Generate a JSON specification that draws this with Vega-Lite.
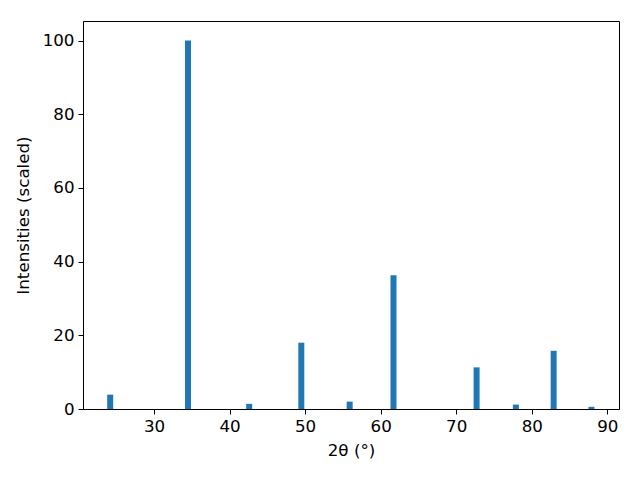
{
  "$schema": "https://vega.github.io/schema/vega-lite/v6.json",
  "autosize": {"type": "none"},
  "width": 536,
  "height": 388,
  "padding": {"left": 83, "top": 21, "right": 21, "bottom": 71},
  "background": "white",
  "config": {
    "view": {"stroke": "black", "strokeWidth": 1},
    "axis": {
      "grid": false,
      "domainColor": "black",
      "tickColor": "black",
      "tickSize": 5,
      "labelColor": "black",
      "titleColor": "black",
      "titleFontWeight": "normal",
      "labelFont": "DejaVu Sans",
      "titleFont": "DejaVu Sans"
    }
  },
  "data": {
    "values": [
      {"two_theta": 24.2, "intensity": 3.9},
      {"two_theta": 34.5, "intensity": 100},
      {"two_theta": 42.6, "intensity": 1.4},
      {"two_theta": 49.5, "intensity": 18.0},
      {"two_theta": 55.9, "intensity": 2.0},
      {"two_theta": 61.7, "intensity": 36.3},
      {"two_theta": 72.7, "intensity": 11.3},
      {"two_theta": 77.9, "intensity": 1.2},
      {"two_theta": 82.9, "intensity": 15.8},
      {"two_theta": 87.9, "intensity": 0.6}
    ]
  },
  "mark": {"type": "bar", "width": 6, "color": "#1f77b4"},
  "encoding": {
    "x": {
      "field": "two_theta",
      "type": "quantitative",
      "scale": {"domain": [20.6, 91.55], "nice": false, "zero": false, "padding": 0},
      "axis": {"values": [30, 40, 50, 60, 70, 80, 90], "title": "2θ (°)", "titlePadding": 8, "labelPadding": 4, "labelFontSize": 16.7, "titleFontSize": 16.7, "labelFlush": false}
    },
    "y": {
      "field": "intensity",
      "type": "quantitative",
      "scale": {"domain": [0, 105.3], "nice": false, "padding": 0},
      "axis": {"values": [0, 20, 40, 60, 80, 100], "title": "Intensities (scaled)", "titlePadding": 10, "labelPadding": 4, "labelFontSize": 16.7, "titleFontSize": 16.7, "labelFlush": false}
    }
  }
}
